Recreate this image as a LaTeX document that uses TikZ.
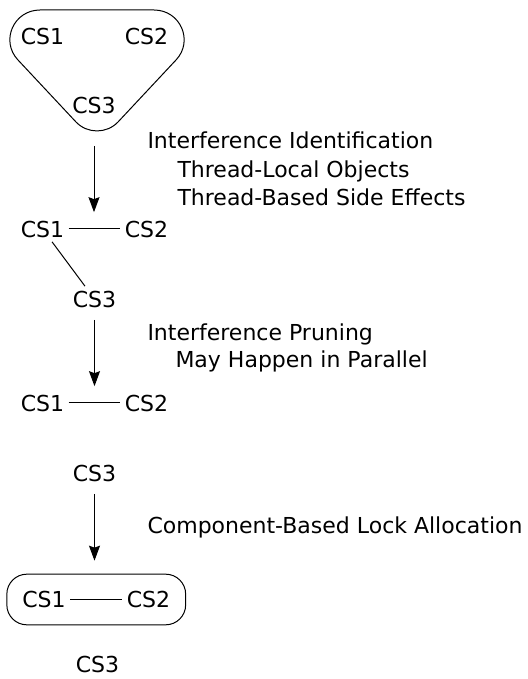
\documentclass[tikz,border=0pt]{standalone}
\usepackage{fontspec}
\setmainfont{DejaVu Sans}
\usetikzlibrary{arrows.meta,fit}

\begin{document}
\begin{tikzpicture}[x=1pt,y=-1pt,line width=1pt,
    every node/.style={font=\fontsize{22}{26}\selectfont,anchor=base,inner sep=4pt},
    caption/.style={anchor=base west,inner sep=0pt},
    stepto/.style={-{Stealth[length=15pt,width=11pt,inset=2pt]}}]
  \useasboundingbox (0,0) rectangle (527,679);
  % all three sections together
  \node (a1) at (42.5,45) {CS1};
  \node (a2) at (146.5,45) {CS2};
  \node (a3) at (94,114) {CS3};
  \draw (40,10) -- (154,10)
    .. controls (180.3,10) and (194,40.9) .. (176,60)
    -- (118,122) .. controls (106.7,133.9) and (87.3,133.9) .. (76,122)
    -- (18,60) .. controls (0,40.9) and (13.7,10) .. cycle;
  \node[caption] (t1) at (147,149) {Interference Identification};
  \node[caption] (t1a) at (177,177.5) {Thread-Local Objects};
  \node[caption] (t1b) at (177,205) {Thread-Based Side Effects};
  % interference graph
  \node (b1) at (42.5,237) {CS1};
  \node (b2) at (146.5,237) {CS2};
  \node (b3) at (94.5,307) {CS3};
  \draw (b1) -- (b2);
  \draw (b1) -- (b3);
  \draw[stepto,shorten <=27pt,shorten >=4pt] (a3.south) -- (a3.south |- b1.north);
  \node[caption] (t2) at (147,340) {Interference Pruning};
  \node[caption] (t2a) at (175,367) {May Happen in Parallel};
  % pruned graph
  \node (c1) at (42.5,411) {CS1};
  \node (c2) at (146.5,411) {CS2};
  \node (c3) at (94.5,481) {CS3};
  \draw (c1) -- (c2);
  \draw[stepto,shorten <=8pt,shorten >=4pt] (b3.south) -- (b3.south |- c1.north);
  \node[caption] (t3) at (147,533) {Component-Based Lock Allocation};
  % lock components
  \node (d1) at (44,607.5) {CS1};
  \node (d2) at (148.5,607.5) {CS2};
  \node (d3) at (97.5,672) {CS3};
  \draw (d1) -- (d2);
  \node[draw,rounded corners=20pt,inner xsep=11pt,inner ysep=12.5pt,fit=(d1)(d2)] (lock) {};
  \draw[stepto,shorten <=8pt,shorten >=13pt] (c3.south) -- (c3.south |- lock.north);
\end{tikzpicture}
\end{document}
